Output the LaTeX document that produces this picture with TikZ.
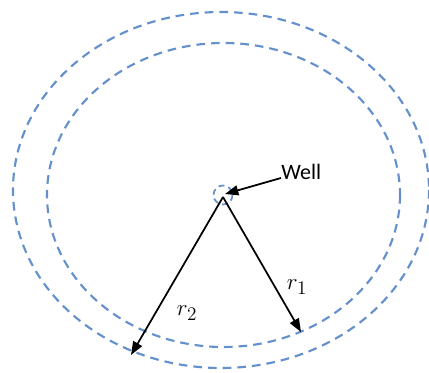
\documentclass[tikz,border=0pt]{standalone}
\usepackage{fontspec}
\setmainfont{Carlito}
\usetikzlibrary{arrows.meta}
\definecolor{ringblue}{RGB}{100,145,205}
\tikzset{
  ring/.style={draw=ringblue, line width=1.6pt, dash pattern=on 6.5pt off 4.5pt},
  ptr/.style={draw=black, line width=1.3pt, -{Triangle[length=10pt,width=7.5pt]}},
  lbl/.style={font=\fontsize{16.5}{18}\selectfont, text=black, inner sep=0pt},
  mlbl/.style={font=\fontsize{19}{22}\selectfont, text=black, inner sep=0pt}
}
\begin{document}
\begin{tikzpicture}[x=0.75pt,y=-0.75pt]
\useasboundingbox (0,0) rectangle (429,372);
\draw[ring] (221,190) ellipse [x radius=208, y radius=178];
\draw[ring] (223.5,195) ellipse [x radius=176.5, y radius=152];
\draw[ring, line width=1.3pt, dash pattern=on 4.5pt off 3pt] (223,195) circle [radius=9.5];
\coordinate (c) at (223,197);
\coordinate (t2) at (131,355);
\coordinate (t1) at (301,332);
\node[lbl, anchor=west] (well) at (281,172) {Well};
\coordinate (ws) at (281,178);
\draw[ptr] (c) -- (t2);
\draw[ptr] (c) -- (t1);
\draw[ptr] (ws) -- (225,194);
\node[mlbl] (r2) at (187,313) {$r_2$};
\node[mlbl] (r1) at (297,287) {$r_1$};
\end{tikzpicture}
\end{document}
